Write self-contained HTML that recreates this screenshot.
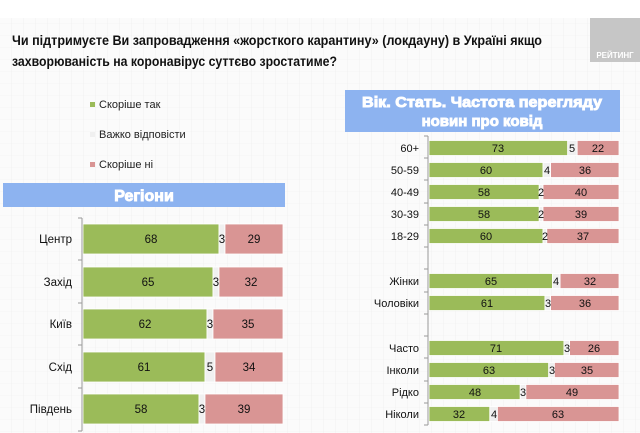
<!DOCTYPE html>
<html><head><meta charset="utf-8"><style>
body{margin:0;width:640px;height:433px;overflow:hidden;background:#fff}
svg{display:block;font-family:"Liberation Sans",sans-serif}
</style></head><body>
<svg width="640" height="433" viewBox="0 0 640 433">
<defs>
<pattern id="g" width="12" height="12" patternUnits="userSpaceOnUse">
<rect width="12" height="12" fill="#fbfbfb"/>
<path d="M12 0V12M0 12H12" stroke="#ededed" stroke-width="0.6"/>
</pattern>
</defs>
<rect x="0" y="18" width="640" height="415" fill="url(#g)"/>
<rect x="590" y="18" width="50" height="44" fill="#c6c6c6"/>
<text x="615" y="58" font-size="8" font-weight="bold" fill="#fff" text-anchor="middle">РЕЙТИНГ</text>
<g font-size="14" font-weight="bold" fill="#111">
<text x="12" y="45" textLength="530" lengthAdjust="spacingAndGlyphs">Чи підтримуєте Ви запровадження «жорсткого карантину» (локдауну)  в Україні якщо</text>
<text x="12" y="66" textLength="325" lengthAdjust="spacingAndGlyphs">захворюваність на коронавірус суттєво зростатиме?</text>
</g>
<g font-size="11" fill="#222">
<rect x="90" y="102" width="5" height="5" fill="#9bbb59"/><text x="99" y="108">Скоріше  так</text>
<rect x="90" y="132" width="5" height="5" fill="#f0f0f0"/><text x="99" y="138">Важко відповісти</text>
<rect x="90" y="162" width="5" height="5" fill="#d99594"/><text x="99" y="168">Скоріше  ні</text>
</g>
<rect x="3" y="183" width="282" height="24" fill="#8db3f0"/>
<text x="144" y="201" font-size="16" font-weight="bold" fill="#fff" text-anchor="middle" stroke="#fff" stroke-width="0.9">Регіони</text>
<rect x="345" y="90" width="275" height="42" fill="#8db3f0"/>
<g font-size="15" font-weight="bold" fill="#fff" text-anchor="middle" stroke="#fff" stroke-width="0.9">
<text x="482" y="107" textLength="240" lengthAdjust="spacingAndGlyphs">Вік. Стать. Частота перегляду</text>
<text x="482" y="126">новин про ковід</text>
</g>
<!-- left chart -->
<path d="M82 218V431M78 218H82M78 260H82M78 303H82M78 345H82M78 388H82M78 431H82" stroke="#999" fill="none"/>
<g stroke="#fff" stroke-width="0.8">
<rect x="83" y="224" width="136" height="30" fill="#9bbb59"/><rect x="219" y="224" width="6" height="30" fill="#f0f0f0"/><rect x="225" y="224" width="58" height="30" fill="#d99594"/>
<rect x="83" y="267" width="130" height="30" fill="#9bbb59"/><rect x="213" y="267" width="6" height="30" fill="#f0f0f0"/><rect x="219" y="267" width="64" height="30" fill="#d99594"/>
<rect x="83" y="309" width="124" height="30" fill="#9bbb59"/><rect x="207" y="309" width="6" height="30" fill="#f0f0f0"/><rect x="213" y="309" width="70" height="30" fill="#d99594"/>
<rect x="83" y="352" width="122" height="30" fill="#9bbb59"/><rect x="205" y="352" width="10" height="30" fill="#f0f0f0"/><rect x="215" y="352" width="68" height="30" fill="#d99594"/>
<rect x="83" y="394" width="116" height="30" fill="#9bbb59"/><rect x="199" y="394" width="6" height="30" fill="#f0f0f0"/><rect x="205" y="394" width="78" height="30" fill="#d99594"/>
</g>
<g font-size="11.5" fill="#111" text-anchor="middle">
<text x="151" y="243">68</text><text x="222" y="243">3</text><text x="254" y="243">29</text>
<text x="148" y="286">65</text><text x="216" y="286">3</text><text x="251" y="286">32</text>
<text x="145" y="328">62</text><text x="210" y="328">3</text><text x="248" y="328">35</text>
<text x="144" y="371">61</text><text x="210" y="371">5</text><text x="249" y="371">34</text>
<text x="141" y="413">58</text><text x="202" y="413">3</text><text x="244" y="413">39</text>
</g>
<g font-size="11.5" fill="#111" text-anchor="end">
<text x="72" y="243">Центр</text><text x="72" y="286">Захід</text><text x="72" y="328">Київ</text><text x="72" y="371">Схід</text><text x="72" y="413">Південь</text>
</g>
<!-- right chart -->
<path d="M428 136V425M424 136H428M424 158H428M424 180H428M424 203H428M424 225H428M424 247H428M424 269H428M424 292H428M424 314H428M424 336H428M424 358H428M424 381H428M424 403H428M424 425H428" stroke="#999" fill="none"/>
<g stroke="#fff" stroke-width="0.8">
<rect x="429" y="140.5" width="138.7" height="15" fill="#9bbb59"/><rect x="567.7" y="140.5" width="9.5" height="15" fill="#f0f0f0"/><rect x="577.2" y="140.5" width="41.8" height="15" fill="#d99594"/>
<rect x="429" y="162.5" width="114" height="15" fill="#9bbb59"/><rect x="543" y="162.5" width="7.6" height="15" fill="#f0f0f0"/><rect x="550.6" y="162.5" width="68.4" height="15" fill="#d99594"/>
<rect x="429" y="184.5" width="110.2" height="15" fill="#9bbb59"/><rect x="539.2" y="184.5" width="3.8" height="15" fill="#f0f0f0"/><rect x="543" y="184.5" width="76" height="15" fill="#d99594"/>
<rect x="429" y="206.5" width="110.2" height="15" fill="#9bbb59"/><rect x="539.2" y="206.5" width="3.8" height="15" fill="#f0f0f0"/><rect x="543" y="206.5" width="76" height="15" fill="#d99594"/>
<rect x="429" y="228.5" width="114" height="15" fill="#9bbb59"/><rect x="543" y="228.5" width="3.8" height="15" fill="#f0f0f0"/><rect x="546.8" y="228.5" width="72.2" height="15" fill="#d99594"/>
<rect x="429" y="273.5" width="123.5" height="15" fill="#9bbb59"/><rect x="552.5" y="273.5" width="7.6" height="15" fill="#f0f0f0"/><rect x="560.1" y="273.5" width="58.9" height="15" fill="#d99594"/>
<rect x="429" y="295.5" width="115.9" height="15" fill="#9bbb59"/><rect x="544.9" y="295.5" width="5.7" height="15" fill="#f0f0f0"/><rect x="550.6" y="295.5" width="68.4" height="15" fill="#d99594"/>
<rect x="429" y="340.5" width="134.9" height="15" fill="#9bbb59"/><rect x="563.9" y="340.5" width="5.7" height="15" fill="#f0f0f0"/><rect x="569.6" y="340.5" width="49.4" height="15" fill="#d99594"/>
<rect x="429" y="362.5" width="119.7" height="15" fill="#9bbb59"/><rect x="548.7" y="362.5" width="5.7" height="15" fill="#f0f0f0"/><rect x="554.4" y="362.5" width="64.6" height="15" fill="#d99594"/>
<rect x="429" y="384.5" width="91.2" height="15" fill="#9bbb59"/><rect x="520.2" y="384.5" width="5.7" height="15" fill="#f0f0f0"/><rect x="525.9" y="384.5" width="93.1" height="15" fill="#d99594"/>
<rect x="429" y="406.5" width="60.8" height="15" fill="#9bbb59"/><rect x="489.8" y="406.5" width="7.6" height="15" fill="#f0f0f0"/><rect x="497.4" y="406.5" width="121.6" height="15" fill="#d99594"/>
</g>
<g font-size="11" fill="#111" text-anchor="middle">
<text x="498" y="152">73</text><text x="572" y="152">5</text><text x="598" y="152">22</text>
<text x="486" y="174">60</text><text x="547" y="174">4</text><text x="585" y="174">36</text>
<text x="484" y="196">58</text><text x="541" y="196">2</text><text x="581" y="196">40</text>
<text x="484" y="218">58</text><text x="541" y="218">2</text><text x="581" y="218">39</text>
<text x="486" y="240">60</text><text x="545" y="240">2</text><text x="583" y="240">37</text>
<text x="491" y="285">65</text><text x="556" y="285">4</text><text x="590" y="285">32</text>
<text x="487" y="307">61</text><text x="548" y="307">3</text><text x="585" y="307">36</text>
<text x="496" y="352">71</text><text x="567" y="352">3</text><text x="594" y="352">26</text>
<text x="489" y="374">63</text><text x="552" y="374">3</text><text x="587" y="374">35</text>
<text x="475" y="396">48</text><text x="523" y="396">3</text><text x="572" y="396">49</text>
<text x="459" y="418">32</text><text x="494" y="418">4</text><text x="558" y="418">63</text>
</g>
<g font-size="11" fill="#111" text-anchor="end">
<text x="419" y="152">60+</text><text x="419" y="174">50-59</text><text x="419" y="196">40-49</text><text x="419" y="218">30-39</text><text x="419" y="240">18-29</text>
<text x="419" y="285">Жінки</text><text x="419" y="307">Чоловіки</text>
<text x="419" y="352">Часто</text><text x="419" y="374">Інколи</text><text x="419" y="396">Рідко</text><text x="419" y="418">Ніколи</text>
</g>
</svg>
</body></html>
